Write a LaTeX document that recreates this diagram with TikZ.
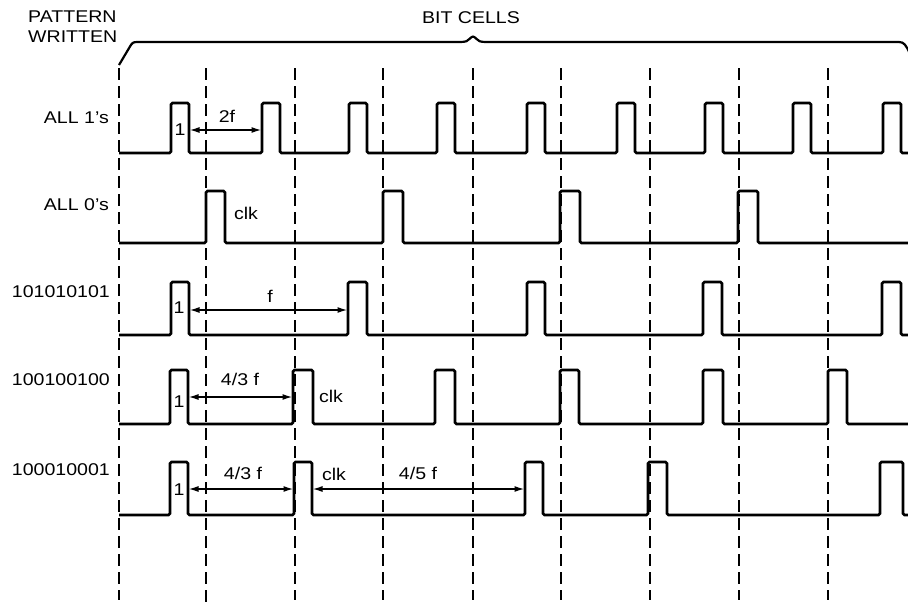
\documentclass[tikz,border=0pt]{standalone}
\usepackage{fontspec}
\setmainfont[FakeStretch=1.15]{Liberation Sans}
\usetikzlibrary{arrows.meta}
\newcommand{\sigrow}[3]{%
  \draw[sig] (119,#1) \foreach \r/\f in {#3} { -- (\r,#1) -- (\r,#2) -- (\f,#2) -- (\f,#1) } -- (915,#1);}
\begin{document}
\begin{tikzpicture}[x=1pt,y=-1pt,
  txt/.style={inner sep=0pt,font=\fontsize{17}{20}\selectfont},
  sig/.style={line width=2.6pt,rounded corners=1.5pt},
  grid/.style={line width=2pt,dash pattern=on 12pt off 6pt},
  dim/.style={line width=1.6pt,{Latex[length=10pt,width=6pt]}-{Latex[length=10pt,width=6pt]},shorten <=0.5pt,shorten >=0.5pt},
  brace/.style={line width=2.2pt}]
\clip (0,0) rectangle (908,606);
\fill[white] (0,0) rectangle (908,606);
% header
\node[txt,anchor=west,align=left] (pw) at (28,27) {PATTERN\\[0pt]WRITTEN};
\node[txt] (bc) at (471,18) {BIT CELLS};
\draw[brace] (119,65) -- (130,46.5) .. controls (132,43) and (133,42) .. (137,42)
  -- (460,42) .. controls (466,42) and (468,41) .. (470,38.5)
  .. controls (472,36) and (474,36) .. (476,38.5)
  .. controls (478,41) and (480,42) .. (486,42)
  -- (899,42) .. controls (904,42) and (906,45) .. (910,54);
% dashed cell boundaries
\foreach \x in {119,295,383,473,561,650,739,828} {\draw[grid] (\x,68) -- (\x,600);}
\draw[grid] (206,68) -- (206,608);
% row labels
\node[txt,anchor=east] (r1) at (109,118) {ALL 1's};
\node[txt,anchor=east] (r2) at (109,205) {ALL 0's};
\node[txt,anchor=east] (r3) at (110,292) {101010101};
\node[txt,anchor=east] (r4) at (110,380) {100100100};
\node[txt,anchor=east] (r5) at (110,470) {100010001};
% signals
\sigrow{153}{103}{171/189,262/280,349/367,437/455,527/545,617/635,705/723,793/811,883/901}
\sigrow{243}{191}{206/225,383/403,560/580,738/758}
\sigrow{335}{282}{171/189,348/367,527/545,703/722,882/901}
\sigrow{424}{370}{170/188,293/313,435/455,560/579,703/723,828/847}
\sigrow{515}{462}{170/188,294/312,525/543,648/667,880/903}
% row 1 annotations
\coordinate (a1l) at (189,130); \coordinate (a1r) at (262,130);
\draw[dim] (a1l) -- (a1r);
\node[txt] (t2f) at (227,116) {2f};
\node[txt] (o1) at (180,130) {1};
% row 2
\node[txt] (c2) at (246,213) {clk};
% row 3
\coordinate (a3l) at (189,310); \coordinate (a3r) at (348,310);
\draw[dim] (a3l) -- (a3r);
\node[txt] (tf) at (270,296) {f};
\node[txt] (o3) at (179,308) {1};
% row 4
\coordinate (a4l) at (188,397); \coordinate (a4r) at (293,397);
\draw[dim] (a4l) -- (a4r);
\node[txt] (t43a) at (240,379) {4/3 f};
\node[txt] (o4) at (179,402) {1};
\node[txt] (c4) at (331,396) {clk};
% row 5
\coordinate (a5l) at (188,489); \coordinate (a5r) at (294,489);
\coordinate (a6l) at (312,489); \coordinate (a6r) at (525,489);
\draw[dim] (a5l) -- (a5r);
\draw[dim] (a6l) -- (a6r);
\node[txt] (t43b) at (243,473) {4/3 f};
\node[txt] (o5) at (179,490) {1};
\node[txt] (c5) at (334,474) {clk};
\node[txt] (t45) at (418,473) {4/5 f};
\end{tikzpicture}
\end{document}
